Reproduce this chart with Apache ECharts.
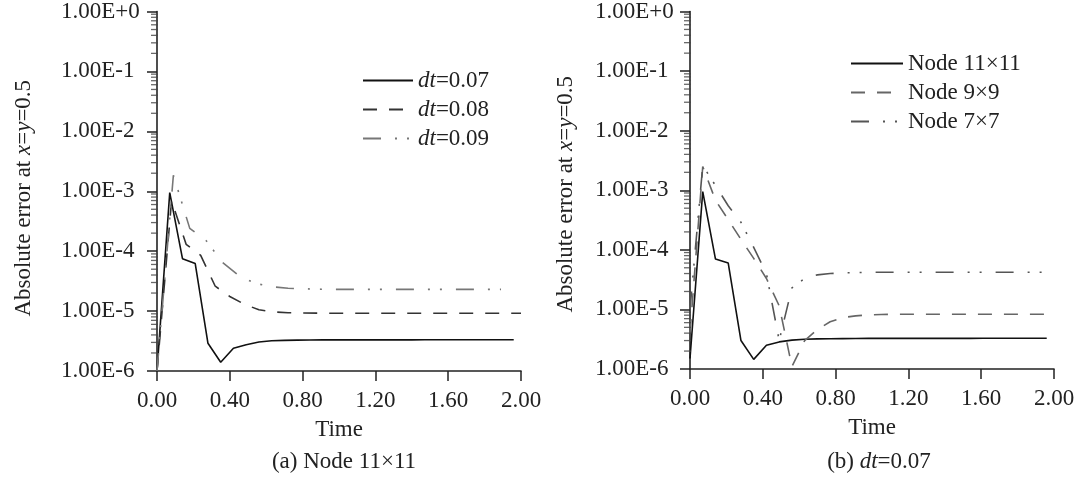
<!DOCTYPE html>
<html><head><meta charset="utf-8">
<script src="https://cdn.jsdelivr.net/npm/echarts@6/dist/echarts.min.js"></script>
<style>html,body{margin:0;padding:0;background:#fff}#c{width:1086px;height:477px}</style>
</head><body><div id="c"></div>
<script>
// time samples
const tA07 = [0,0.07,0.14,0.21,0.28,0.35,0.42,0.49,0.56,0.63,0.70,0.77,0.84,0.91,0.98,1.05,1.12,1.19,1.26,1.33,1.40,1.47,1.54,1.61,1.68,1.75,1.82,1.89,1.96];
const tA08 = [0,0.08,0.16,0.24,0.32,0.40,0.48,0.56,0.64,0.72,0.80,0.88,0.96,1.04,1.12,1.20,1.28,1.36,1.44,1.52,1.60,1.68,1.76,1.84,1.92,2.00];
const tA09 = [0,0.09,0.18,0.27,0.36,0.45,0.54,0.63,0.72,0.81,0.90,0.99,1.08,1.17,1.26,1.35,1.44,1.53,1.62,1.71,1.80,1.89];

// (a) Node 11x11
const leftDt07 = [1.0e-6,9.5e-4,7.5e-5,6.2e-5,2.9e-6,1.4e-6,2.4e-6,2.75e-6,3.05e-6,3.2e-6,3.25e-6,3.28e-6,3.3e-6,
  3.31e-6,3.31e-6,3.31e-6,3.31e-6,3.31e-6,3.31e-6,3.31e-6,3.31e-6,3.32e-6,3.32e-6,3.32e-6,3.32e-6,3.32e-6,3.32e-6,3.32e-6,3.32e-6];
const leftDt08 = [1.0e-6,7.0e-4,1.3e-4,8.5e-5,2.6e-5,1.75e-5,1.3e-5,1.05e-5,9.7e-6,9.4e-6,9.3e-6,9.25e-6,
  9.2e-6,9.2e-6,9.2e-6,9.2e-6,9.2e-6,9.2e-6,9.2e-6,9.2e-6,9.2e-6,9.2e-6,9.2e-6,9.2e-6,9.2e-6,9.2e-6];
const leftDt09 = [1.0e-6,1.85e-3,2.4e-4,1.5e-4,6.5e-5,3.9e-5,2.9e-5,2.55e-5,2.4e-5,2.35e-5,2.32e-5,
  2.3e-5,2.3e-5,2.3e-5,2.3e-5,2.3e-5,2.3e-5,2.3e-5,2.3e-5,2.3e-5,2.3e-5,2.3e-5];

// (b) dt=0.07
const rightNode11 = [1.5e-6,9.5e-4,7.0e-5,6.0e-5,3.0e-6,1.45e-6,2.5e-6,2.85e-6,3.05e-6,3.15e-6,3.2e-6,3.22e-6,3.24e-6,3.25e-6,
  3.26e-6,3.26e-6,3.26e-6,3.26e-6,3.27e-6,3.27e-6,3.27e-6,3.27e-6,3.27e-6,3.28e-6,3.28e-6,3.28e-6,3.28e-6,3.28e-6,3.28e-6];
const rightNode9 = [4.0e-6,2.5e-3,6.8e-4,3.2e-4,1.5e-4,7.2e-5,3.3e-5,1.15e-5,1.1e-6,3.0e-6,4.6e-6,6.2e-6,7.3e-6,7.8e-6,8.1e-6,8.2e-6,
  8.3e-6,8.3e-6,8.3e-6,8.3e-6,8.3e-6,8.3e-6,8.3e-6,8.3e-6,8.3e-6,8.3e-6,8.3e-6,8.3e-6,8.3e-6];
const rightNode7 = [1.0e-5,2.6e-3,1.2e-3,5.5e-4,2.9e-4,1.1e-4,4.0e-5,3.0e-6,2.3e-5,3.3e-5,3.8e-5,4.0e-5,4.1e-5,4.15e-5,
  4.2e-5,4.2e-5,4.2e-5,4.2e-5,4.2e-5,4.2e-5,4.2e-5,4.2e-5,4.2e-5,4.2e-5,4.2e-5,4.2e-5,4.2e-5,4.2e-5,4.2e-5];

const yTickLabels = ['1.00E-6','1.00E-5','1.00E-4','1.00E-3','1.00E-2','1.00E-1','1.00E+0'];
const minorMantissas = [2,3,4,5,6,7,8,9];
const minorExponents = [-6,-5,-4,-3,-2,-1];
const minorTickValues = [];
minorExponents.forEach(e => minorMantissas.forEach(m => minorTickValues.push(m * Math.pow(10, e))));

const FONT = 'Liberation Serif';
const INK = '#222';
const FS = 23;

const pair = (ts, vs) => ts.map((t, i) => [t, vs[i]]);

const grids = [
  {left: 157, top: 11, width: 364, height: 360},
  {left: 690, top: 9, width: 364, height: 360}
];

function xAxisFor(gi) {
  return {
    type: 'value', gridIndex: gi, min: 0, max: 2, interval: 0.4, position: 'bottom',
    name: 'Time', nameLocation: 'middle', nameGap: 47,
    nameTextStyle: {fontFamily: FONT, fontSize: FS, color: INK},
    axisLine: {show: true, onZero: false, lineStyle: {color: INK, width: 1.6}},
    axisTick: {show: true, inside: false, length: 10, lineStyle: {color: INK, width: 1.5}},
    axisLabel: {fontFamily: FONT, fontSize: FS, color: INK, margin: 18, formatter: v => v.toFixed(2)},
    splitLine: {show: false}
  };
}
function yAxisFor(gi, gap, margin, pad) {
  return {
    type: 'log', logBase: 10, gridIndex: gi, min: 1e-6, max: 1, splitNumber: 6, position: 'left',
    name: 'Absolute error at {i|x}={i|y}=0.5', nameLocation: 'middle', nameGap: gap,
    nameTextStyle: {fontFamily: FONT, fontSize: FS, color: INK, padding: [0, pad, 0, 0],
      rich: {i: {fontFamily: FONT, fontSize: FS, fontStyle: 'italic', color: INK}}},
    axisLine: {show: true, onZero: false, lineStyle: {color: INK, width: 1.6}},
    axisTick: {show: true, inside: false, length: 10, lineStyle: {color: INK, width: 1.5}},
    axisLabel: {fontFamily: FONT, fontSize: FS, color: INK, margin: margin, align: 'left',
      formatter: v => yTickLabels[Math.round(Math.log10(v)) + 6]},
    splitLine: {show: false}
  };
}

// minor log ticks, placed on the y axis through the log scale
function minorTickSeries(gi) {
  return {
    type: 'scatter', xAxisIndex: gi, yAxisIndex: gi, silent: true, clip: false, animation: false,
    data: minorTickValues.map(v => [0, v]),
    symbol: 'rect', symbolSize: [7, 1.3], symbolOffset: [-2.5, 0],
    itemStyle: {color: '#444'}, z: 5
  };
}

const dashA = [14, 12];
const dashDot = [18, 14, 2, 10, 2, 14];

function lineSeries(name, data, xi, yi, color, type) {
  return {
    name: name, type: 'line', xAxisIndex: xi, yAxisIndex: yi, data: data,
    symbol: 'none', smooth: false, animation: false,
    lineStyle: {color: color, width: 1.6, type: type},
    itemStyle: {color: color}
  };
}

const legendRich = {
  i: {fontFamily: FONT, fontSize: FS, fontStyle: 'italic', color: INK},
  n: {fontFamily: FONT, fontSize: FS, color: INK}
};
const hiddenSymbol = {color: 'rgba(0,0,0,0)', borderWidth: 0, opacity: 0};

const option = {
  backgroundColor: '#fff',
  animation: false,
  grid: grids,
  xAxis: [xAxisFor(0), xAxisFor(1)],
  yAxis: [yAxisFor(0, 122, 96, 14), yAxisFor(1, 113, 95, 8)],
  title: [
    {text: '(a) Node 11×11', left: 339, top: 445, textAlign: 'center',
      textStyle: {fontFamily: FONT, fontSize: FS, fontWeight: 'normal', color: INK}},
    {text: '(b) {i|dt}=0.07', left: 874, top: 445, textAlign: 'center',
      textStyle: {fontFamily: FONT, fontSize: FS, fontWeight: 'normal', color: INK, rich: legendRich}}
  ],
  legend: [
    {data: ['dt=0.07', 'dt=0.08', 'dt=0.09'], orient: 'vertical', left: 362, top: 69,
      itemWidth: 50, itemHeight: 14, itemGap: 6, padding: 0, itemStyle: hiddenSymbol,
      formatter: n => '{i|dt}{n|' + n.slice(2) + '}',
      textStyle: {fontFamily: FONT, fontSize: FS, color: INK, rich: legendRich}},
    {data: ['Node 11×11', 'Node 9×9', 'Node 7×7'], orient: 'vertical', left: 850, top: 52,
      itemWidth: 52, itemHeight: 14, itemGap: 6, padding: 0, itemStyle: hiddenSymbol,
      textStyle: {fontFamily: FONT, fontSize: FS, color: INK}}
  ],
  series: [
    lineSeries('dt=0.07', pair(tA07, leftDt07), 0, 0, '#111', 'solid'),
    lineSeries('dt=0.08', pair(tA08, leftDt08), 0, 0, '#333', dashA),
    lineSeries('dt=0.09', pair(tA09, leftDt09), 0, 0, '#777', dashDot),
    lineSeries('Node 11×11', pair(tA07, rightNode11), 1, 1, '#111', 'solid'),
    lineSeries('Node 9×9', pair(tA07, rightNode9), 1, 1, '#666', dashA),
    lineSeries('Node 7×7', pair(tA07, rightNode7), 1, 1, '#555', dashDot),
    minorTickSeries(0),
    minorTickSeries(1)
  ]
};

const chart = echarts.init(document.getElementById('c'), null, {renderer: 'canvas'});
chart.setOption(option);
</script>
</body></html>
